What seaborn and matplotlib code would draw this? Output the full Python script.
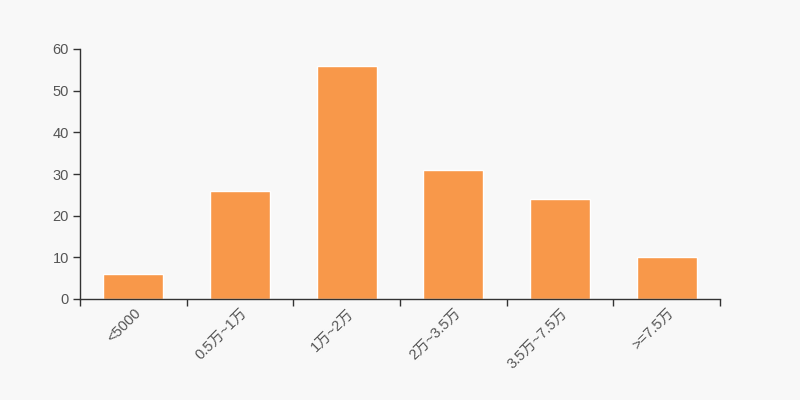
import matplotlib
matplotlib.use("Agg")
import matplotlib.pyplot as plt
import seaborn as sns
import pandas as pd

categories = ["<5000", "0.5万~1万", "1万~2万", "2万~3.5万", "3.5万~7.5万", ">=7.5万"]
values = [6, 26, 56, 31, 24, 10]

sns.set_style("white")
plt.rcParams['font.family'] = ['Liberation Sans', 'Noto Sans CJK SC', 'DejaVu Sans']

df = pd.DataFrame({"range": categories, "count": values})

fig = plt.figure(figsize=(8, 4), dpi=100, facecolor="#f8f8f8")
ax = fig.add_axes([0.1, 0.2525, 0.8, 0.625])
ax.set_facecolor("#f8f8f8")

sns.barplot(data=df, x="range", y="count", color="#f8984a", saturation=1,
            width=0.56, ax=ax)

ax.set_xlim(-0.5, len(categories) - 0.5)
ax.set_ylim(0, 60)
ax.set_yticks(range(0, 61, 10))
ax.set_xlabel("")
ax.set_ylabel("")

for s in ["top", "right"]:
    ax.spines[s].set_visible(False)
for s in ["left", "bottom"]:
    ax.spines[s].set_color("#333333")
    ax.spines[s].set_linewidth(1)

ax.tick_params(axis="y", length=5, width=1, color="#333333", labelsize=10.5,
               labelcolor="#555555", pad=3, left=True)
ax.set_xticks([i - 0.5 for i in range(len(categories) + 1)], minor=True)
ax.tick_params(axis="x", which="minor", length=5, width=1, color="#333333", bottom=True)
ax.tick_params(axis="x", which="major", length=0, labelsize=10.5, labelcolor="#555555", pad=5)
ax.set_xticklabels(categories, rotation=45, ha="right", rotation_mode="anchor")

fig.savefig("out.png", dpi=100, facecolor=fig.get_facecolor())
